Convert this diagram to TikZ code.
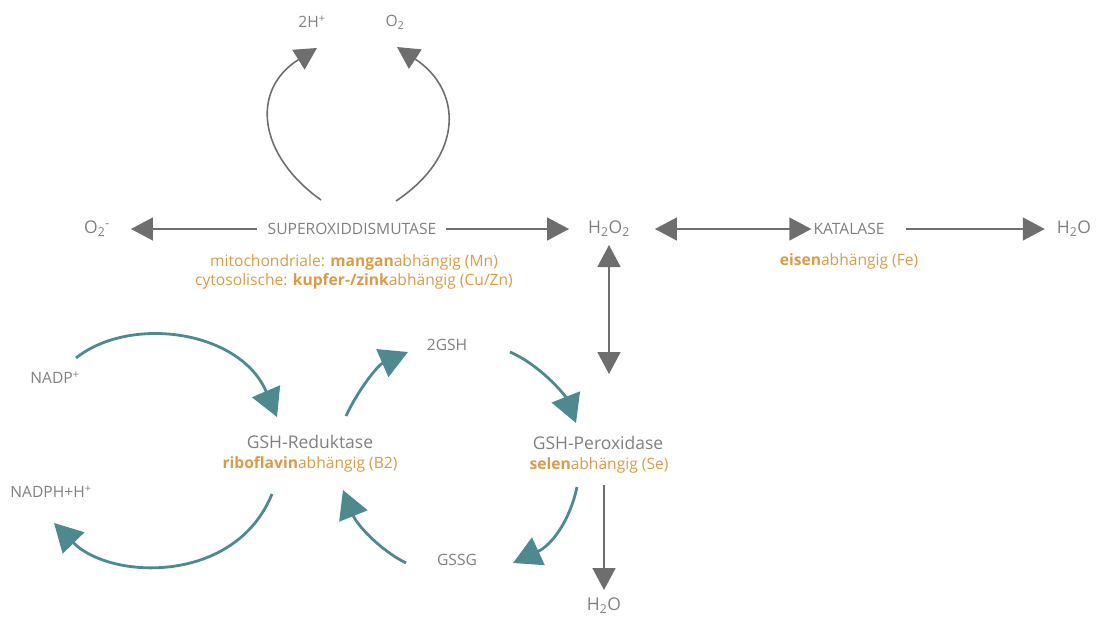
\documentclass[tikz,border=0pt]{standalone}
\usepackage{fontspec}
\setmainfont{Open Sans}
\usetikzlibrary{arrows.meta}
\definecolor{gsgray}{HTML}{808080}
\definecolor{gsarrow}{HTML}{6E6E6E}
\definecolor{gsteal}{HTML}{4F8990}
\definecolor{gsorange}{HTML}{DB9A48}
\tikzset{
  gs text/.style={font=\fontsize{15.6}{18}\selectfont, text=gsgray, inner sep=0pt},
  gs enzyme/.style={font=\fontsize{17.5}{20}\selectfont, text=gsgray, inner sep=0pt},
  gs note/.style={font=\fontsize{15.6}{19.5}\selectfont, text=gsorange, inner sep=0pt, align=center},
  gs arrow/.style={-{Triangle[length=22pt,width=23pt]}, line width=1.6pt, draw=gsarrow},
  gs double/.style={{Triangle[length=22pt,width=23pt]}-{Triangle[length=22pt,width=23pt]},
    line width=1.6pt, draw=gsarrow},
  gs teal/.style={-{Triangle[length=28pt,width=30pt]}, line width=2.8pt, draw=gsteal}
}
\newcommand{\gsbold}[1]{\textbf{#1}}
\begin{document}
\begin{tikzpicture}[x=1pt, y=-1pt]
  \useasboundingbox (0,0) rectangle (1099,616);
  % superoxiddismutase row
  \node[gs text] (hplus) at (312,22) {2H\textsuperscript{+}};
  \node[gs text] (otwo) at (395,22) {O\textsubscript{2}};
  \node[gs enzyme] (osup) at (97,229) {O\textsubscript{2}\textsuperscript{-}};
  \node[gs text] (sod) at (352,229) {SUPEROXIDDISMUTASE};
  \node[gs enzyme] (htwootwo) at (609,229) {H\textsubscript{2}O\textsubscript{2}};
  \node[gs text] (kat) at (849,229) {KATALASE};
  \node[gs enzyme] (hwater) at (1074,229) {H\textsubscript{2}O};
  \node[gs note] (sodnote) at (354,272) {mitochondriale: \gsbold{mangan}abhängig (Mn)\\
    cytosolische: \gsbold{kupfer-/zink}abhängig (Cu/Zn)};
  \node[gs note] (katnote) at (849,261) {\gsbold{eisen}abhängig (Fe)};
  % glutathion cycle
  \node[gs text] (gsh) at (447,345) {2GSH};
  \node[gs text] (nadp) at (55,378) {NADP\textsuperscript{+}};
  \node[gs text] (nadph) at (51,492) {NADPH+H\textsuperscript{+}};
  \node[gs enzyme] (red) at (310,442) {GSH-Reduktase};
  \node[gs note] (rednote) at (310,464) {\gsbold{riboflavin}abhängig (B2)};
  \node[gs enzyme] (perox) at (598,443) {GSH-Peroxidase};
  \node[gs note] (peroxnote) at (599,465) {\gsbold{selen}abhängig (Se)};
  \node[gs text] (gssg) at (457,560) {GSSG};
  \node[gs enzyme] (hwaterb) at (604,606) {H\textsubscript{2}O};
  % straight connectors
  \draw[gs arrow, shorten <=11pt, shorten >=21pt] (sod) -- (osup);
  \draw[gs arrow, shorten <=10pt, shorten >=19pt] (sod) -- (htwootwo);
  \draw[gs double, shorten <=25pt, shorten >=2pt] (htwootwo) -- (kat);
  \draw[gs arrow, shorten <=21pt, shorten >=12pt] (kat) -- (hwater);
  \draw[gs double, shorten <=8pt, shorten >=62pt] (htwootwo.south) -- (htwootwo.south |- perox.north);
  \draw[gs arrow, shorten <=12pt, shorten >=8pt] (peroxnote.south -| hwaterb) -- (hwaterb);
  % curved connectors
  \coordinate (sodl) at (321,200);
  \coordinate (sodr) at (396,201);
  \draw[gs arrow] (sodl) .. controls (258,155) and (250,90) .. (317,48);
  \draw[gs arrow] (sodr) .. controls (465,155) and (462,90) .. (397,47);
  \coordinate (nadpa) at (76,358);
  \coordinate (reda) at (277,417);
  \coordinate (redb) at (272,494);
  \coordinate (nadphb) at (54,523);
  \draw[gs teal] (nadpa) .. controls (130,315) and (240,330) .. (reda);
  \draw[gs teal] (redb) .. controls (235,585) and (110,580) .. (nadphb);
  \coordinate (redc) at (346,416);
  \coordinate (gsha) at (408,352);
  \draw[gs teal] (redc) .. controls (358,390) and (378,365) .. (gsha);
  \coordinate (gssga) at (406,563);
  \coordinate (redd) at (343,490);
  \draw[gs teal] (gssga) .. controls (380,550) and (357,525) .. (redd);
  \coordinate (gshb) at (510,352);
  \coordinate (peroxa) at (576,423);
  \draw[gs teal] (gshb) .. controls (540,365) and (565,395) .. (peroxa);
  \coordinate (peroxb) at (577,487);
  \coordinate (gssgb) at (513,563);
  \draw[gs teal] (peroxb) .. controls (570,520) and (552,545) .. (gssgb);
\end{tikzpicture}
\end{document}
